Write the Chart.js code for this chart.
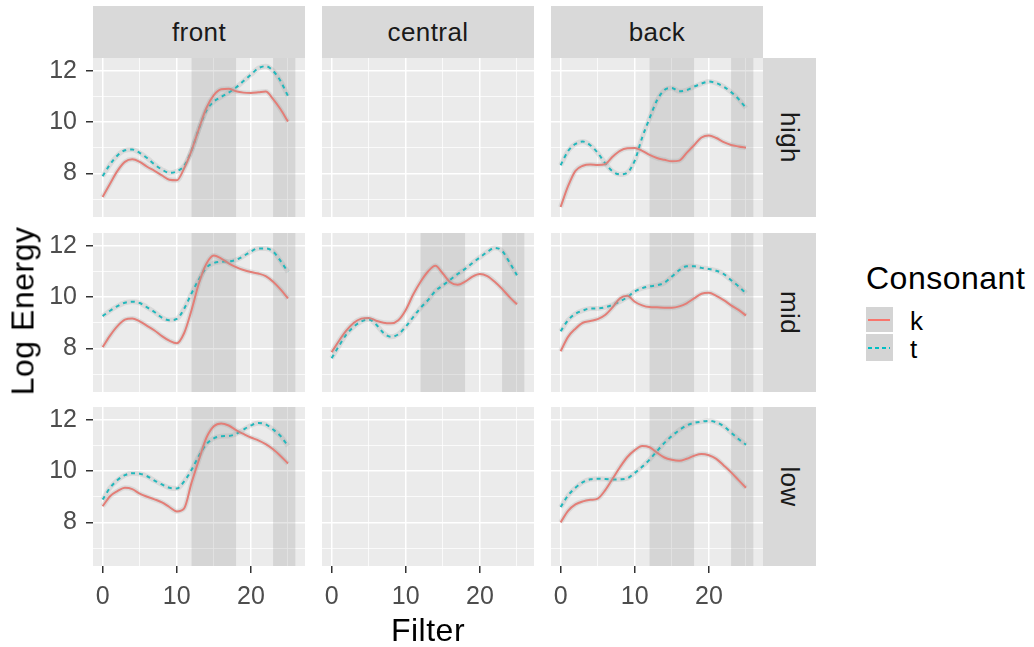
<!DOCTYPE html>
<html>
<head>
<meta charset="utf-8">
<script src="https://cdn.jsdelivr.net/npm/chart.js@4"></script>
<style>
  body { margin: 0; background: #fff; font-family: "Liberation Sans", Arial, sans-serif; }
  #wrap { position: relative; width: 1034px; height: 647px; overflow: hidden; }
  canvas { position: absolute; }
  .strip { position: absolute; background: #D9D9D9; color: #1A1A1A; font-size: 26px; letter-spacing: 0.4px;
           display: flex; align-items: center; justify-content: center; }
  .strip span { white-space: nowrap; }
  .rstrip span { transform: rotate(90deg); }
  .txt { position: absolute; white-space: nowrap; color: #000; }
  .title { font-size: 32px; letter-spacing: 0.5px; }
</style>
</head>
<body>
<div id="wrap"></div>
<script>
// data
const places = ['front', 'central', 'back'];
const heights = ['high', 'mid', 'low'];
const filters = [0, 1, 2, 3, 4, 5, 6, 7, 8, 9, 10, 11, 12, 13, 14, 15, 16, 17, 18, 19, 20, 21, 22, 23, 24, 25];
const xTicks = [0, 5, 10, 15, 20, 25];
const yTicks = [7, 8, 9, 10, 11, 12];
const shadeRegions = [[12, 18], [23, 26]];

const kFrontHigh = [7.08, 7.6, 8.1, 8.45, 8.55, 8.45, 8.26, 8.1, 7.92, 7.75, 7.73, 8.2, 8.9, 9.75, 10.55, 11.05, 11.28, 11.3, 11.2, 11.15, 11.14, 11.16, 11.19, 10.9, 10.5, 10.02];
const tFrontHigh = [7.89, 8.35, 8.7, 8.9, 8.93, 8.8, 8.6, 8.35, 8.15, 8.02, 8.08, 8.3, 8.9, 9.75, 10.45, 10.8, 10.98, 11.15, 11.35, 11.6, 11.85, 12.1, 12.18, 12.0, 11.6, 11.02];
const kBackHigh = [6.69, 7.5, 8.1, 8.3, 8.35, 8.33, 8.36, 8.65, 8.88, 8.98, 8.99, 8.88, 8.72, 8.6, 8.53, 8.47, 8.5, 8.8, 9.1, 9.4, 9.48, 9.38, 9.22, 9.11, 9.05, 9.0];
const tBackHigh = [8.32, 8.87, 9.15, 9.24, 9.1, 8.8, 8.4, 8.08, 7.96, 8.03, 8.5, 9.4, 10.15, 10.85, 11.25, 11.33, 11.2, 11.25, 11.38, 11.5, 11.58, 11.52, 11.38, 11.17, 10.9, 10.55];
const kFrontMid = [8.05, 8.5, 8.87, 9.12, 9.17, 9.05, 8.88, 8.7, 8.48, 8.3, 8.2, 8.6, 9.5, 10.55, 11.3, 11.62, 11.5, 11.32, 11.17, 11.06, 10.98, 10.92, 10.82, 10.6, 10.3, 9.95];
const tFrontMid = [9.26, 9.47, 9.65, 9.78, 9.82, 9.77, 9.6, 9.42, 9.2, 9.1, 9.15, 9.55, 10.15, 10.7, 11.15, 11.33, 11.38, 11.39, 11.45, 11.6, 11.78, 11.9, 11.9, 11.78, 11.41, 10.98];
const kCentralMid = [7.85, 8.3, 8.7, 9.0, 9.16, 9.19, 9.08, 9.0, 8.98, 9.1, 9.5, 10.1, 10.6, 11.0, 11.22, 10.92, 10.58, 10.48, 10.6, 10.8, 10.9, 10.82, 10.6, 10.32, 10.0, 9.72];
const tCentralMid = [7.62, 8.1, 8.55, 8.85, 9.05, 9.13, 8.93, 8.6, 8.45, 8.55, 8.85, 9.22, 9.58, 9.88, 10.24, 10.46, 10.68, 10.9, 11.1, 11.33, 11.55, 11.76, 11.92, 11.8, 11.35, 10.85];
const kBackMid = [7.89, 8.45, 8.77, 9.0, 9.07, 9.14, 9.3, 9.6, 9.95, 10.05, 9.82, 9.68, 9.61, 9.6, 9.59, 9.59, 9.64, 9.76, 9.95, 10.13, 10.17, 10.05, 9.88, 9.68, 9.5, 9.28];
const tBackMid = [8.67, 9.1, 9.35, 9.48, 9.56, 9.56, 9.6, 9.7, 9.83, 10.0, 10.22, 10.35, 10.42, 10.46, 10.56, 10.8, 11.05, 11.2, 11.2, 11.14, 11.1, 11.03, 10.9, 10.66, 10.42, 10.15];
const kFrontLow = [8.63, 9.02, 9.22, 9.35, 9.3, 9.12, 9.0, 8.9, 8.78, 8.6, 8.43, 8.55, 9.55, 10.45, 11.3, 11.75, 11.86, 11.78, 11.6, 11.45, 11.31, 11.2, 11.05, 10.85, 10.59, 10.3];
const tFrontLow = [8.89, 9.35, 9.65, 9.84, 9.92, 9.9, 9.8, 9.63, 9.48, 9.35, 9.32, 9.6, 10.05, 10.6, 11.05, 11.28, 11.36, 11.37, 11.45, 11.62, 11.78, 11.88, 11.82, 11.62, 11.37, 10.98];
const kBackLow = [8.0, 8.45, 8.7, 8.82, 8.88, 8.93, 9.25, 9.7, 10.15, 10.55, 10.82, 10.98, 10.93, 10.72, 10.53, 10.44, 10.4, 10.48, 10.6, 10.67, 10.62, 10.48, 10.22, 9.95, 9.65, 9.35];
const tBackLow = [8.6, 9.05, 9.35, 9.57, 9.68, 9.7, 9.69, 9.67, 9.68, 9.72, 9.93, 10.17, 10.45, 10.78, 11.1, 11.37, 11.6, 11.78, 11.88, 11.93, 11.96, 11.9, 11.75, 11.5, 11.25, 11.03];

const kData = [[kFrontHigh, [], kBackHigh], [kFrontMid, kCentralMid, kBackMid], [kFrontLow, [], kBackLow]];
const tData = [[tFrontHigh, [], tBackHigh], [tFrontMid, tCentralMid, tBackMid], [tFrontLow, [], tBackLow]];

// layout
const colLeft = [93, 322, 551];
const rowTop = [58, 233, 407];
const panelW = 212, panelH = 159;
const kColor = '#F8766D', tColor = '#00BFC4';
const wrap = document.getElementById('wrap');

function el(cls, css, html) {
  const d = document.createElement('div');
  d.className = cls;
  Object.assign(d.style, css);
  if (html != null) d.innerHTML = html;
  wrap.appendChild(d);
  return d;
}

function noPad(s) {
  s.paddingLeft = 0; s.paddingRight = 0; s.paddingTop = 0; s.paddingBottom = 0;
}

const panelPlugin = {
  id: 'panel',
  beforeDraw(chart) {
    const a = chart.chartArea, c = chart.ctx;
    c.save();
    c.fillStyle = '#EBEBEB';
    c.fillRect(a.left, a.top, a.right - a.left, a.bottom - a.top);
    c.restore();
  },
  beforeDatasetsDraw(chart, args, opts) {
    if (!opts.shade) return;
    const a = chart.chartArea, c = chart.ctx, x = chart.scales.x;
    c.save();
    c.fillStyle = 'rgba(127,127,127,0.2)';
    shadeRegions.forEach(([x0, x1]) => {
      const p0 = x.getPixelForValue(x0), p1 = x.getPixelForValue(x1);
      c.fillRect(p0, a.top, p1 - p0, a.bottom - a.top);
    });
    c.restore();
  }
};

function pts(arr) { return arr.map((v, i) => ({ x: filters[i], y: v })); }

for (let r = 0; r < 3; r++) {
  for (let c = 0; c < 3; c++) {
    const padL = c === 0 ? 93 : 0;
    const padB = r === 2 ? 70 : 0;
    const cv = document.createElement('canvas');
    cv.width = panelW + padL; cv.height = panelH + padB;
    cv.style.left = (colLeft[c] - padL) + 'px';
    cv.style.top = rowTop[r] + 'px';
    wrap.appendChild(cv);
    const kd = kData[r][c], td = tData[r][c];
    const has = kd.length > 0;
    const halo = 'rgba(153,153,153,0.22)';
    new Chart(cv.getContext('2d'), {
      type: 'line',
      data: {
        datasets: [
          { data: pts(kd), borderColor: halo, borderWidth: 5 },
          { data: pts(td), borderColor: halo, borderWidth: 5 },
          { label: 'k', data: pts(kd), borderColor: kColor, borderWidth: 2 },
          { label: 't', data: pts(td), borderColor: tColor, borderWidth: 2, borderDash: [4, 4] }
        ]
      },
      options: {
        responsive: false,
        animation: false,
        devicePixelRatio: 1,
        layout: { padding: 0 },
        elements: { point: { radius: 0 }, line: { cubicInterpolationMode: 'monotone', fill: false } },
        plugins: { legend: { display: false }, tooltip: { enabled: false }, panel: { shade: has } },
        scales: {
          x: {
            type: 'linear', min: -1.3, max: 27.3,
            afterBuildTicks: s => { s.ticks = xTicks.map(v => ({ value: v })); },
            afterFit: s => { s.height = padB; noPad(s); },
            border: { display: false },
            grid: {
              color: '#FFFFFF',
              lineWidth: ctx => (ctx.tick && ctx.tick.value % 10 === 0 ? 1.5 : 0.75),
              drawTicks: r === 2,
              tickLength: 7,
              tickWidth: 1.5,
              tickColor: ctx => (ctx.tick && ctx.tick.value % 10 === 0 ? '#333333' : 'rgba(0,0,0,0)')
            },
            ticks: {
              display: r === 2, autoSkip: false, maxRotation: 0, padding: 9,
              color: '#4D4D4D', font: { family: 'Liberation Sans', size: 25 },
              callback: v => (v % 10 === 0 ? String(v) : '')
            }
          },
          y: {
            type: 'linear', min: 6.3, max: 12.5,
            afterBuildTicks: s => { s.ticks = yTicks.map(v => ({ value: v })); },
            afterFit: s => { s.width = padL; noPad(s); },
            border: { display: false },
            grid: {
              color: '#FFFFFF',
              lineWidth: ctx => (ctx.tick && ctx.tick.value % 2 === 0 ? 1.5 : 0.75),
              drawTicks: c === 0,
              tickLength: 7,
              tickWidth: 1.5,
              tickColor: ctx => (ctx.tick && ctx.tick.value % 2 === 0 ? '#333333' : 'rgba(0,0,0,0)')
            },
            ticks: {
              display: c === 0, autoSkip: false, padding: 9,
              color: '#4D4D4D', font: { family: 'Liberation Sans', size: 25 },
              callback: v => (v % 2 === 0 ? String(v) : '')
            }
          }
        }
      },
      plugins: [panelPlugin]
    });
  }
}

// strips
places.forEach((p, c) => {
  el('strip', { left: colLeft[c] + 'px', top: '6px', width: panelW + 'px', height: '52px' }, '<span>' + p + '</span>');
});
heights.forEach((h, r) => {
  el('strip rstrip', { left: '763px', top: rowTop[r] + 'px', width: '53px', height: panelH + 'px' }, '<span>' + h + '</span>');
});

// axis titles
el('txt title', { left: '428px', top: '630px', transform: 'translate(-50%,-50%)' }, 'Filter');
el('txt title', { left: '23px', top: '311px', transform: 'translate(-50%,-50%) rotate(-90deg)' }, 'Log Energy');

// legend
el('txt title', { left: '866px', top: '278px', transform: 'translateY(-50%)' }, 'Consonant');
el('txt', { left: '866px', top: '307px', width: '27px', height: '25px', background: '#D4D4D4' });
el('txt', { left: '866px', top: '334px', width: '27px', height: '27px', background: '#D4D4D4' });
el('txt', { left: '868px', top: '319px', width: '22px', height: '2px', background: kColor });
el('txt', { left: '868px', top: '347px', width: '22px', height: '2px',
  background: 'repeating-linear-gradient(90deg,' + tColor + ' 0 4px, transparent 4px 7px)' });
el('txt', { left: '910px', top: '321px', fontSize: '26px', transform: 'translateY(-50%)' }, 'k');
el('txt', { left: '910px', top: '349px', fontSize: '26px', transform: 'translateY(-50%)' }, 't');
</script>
</body>
</html>
